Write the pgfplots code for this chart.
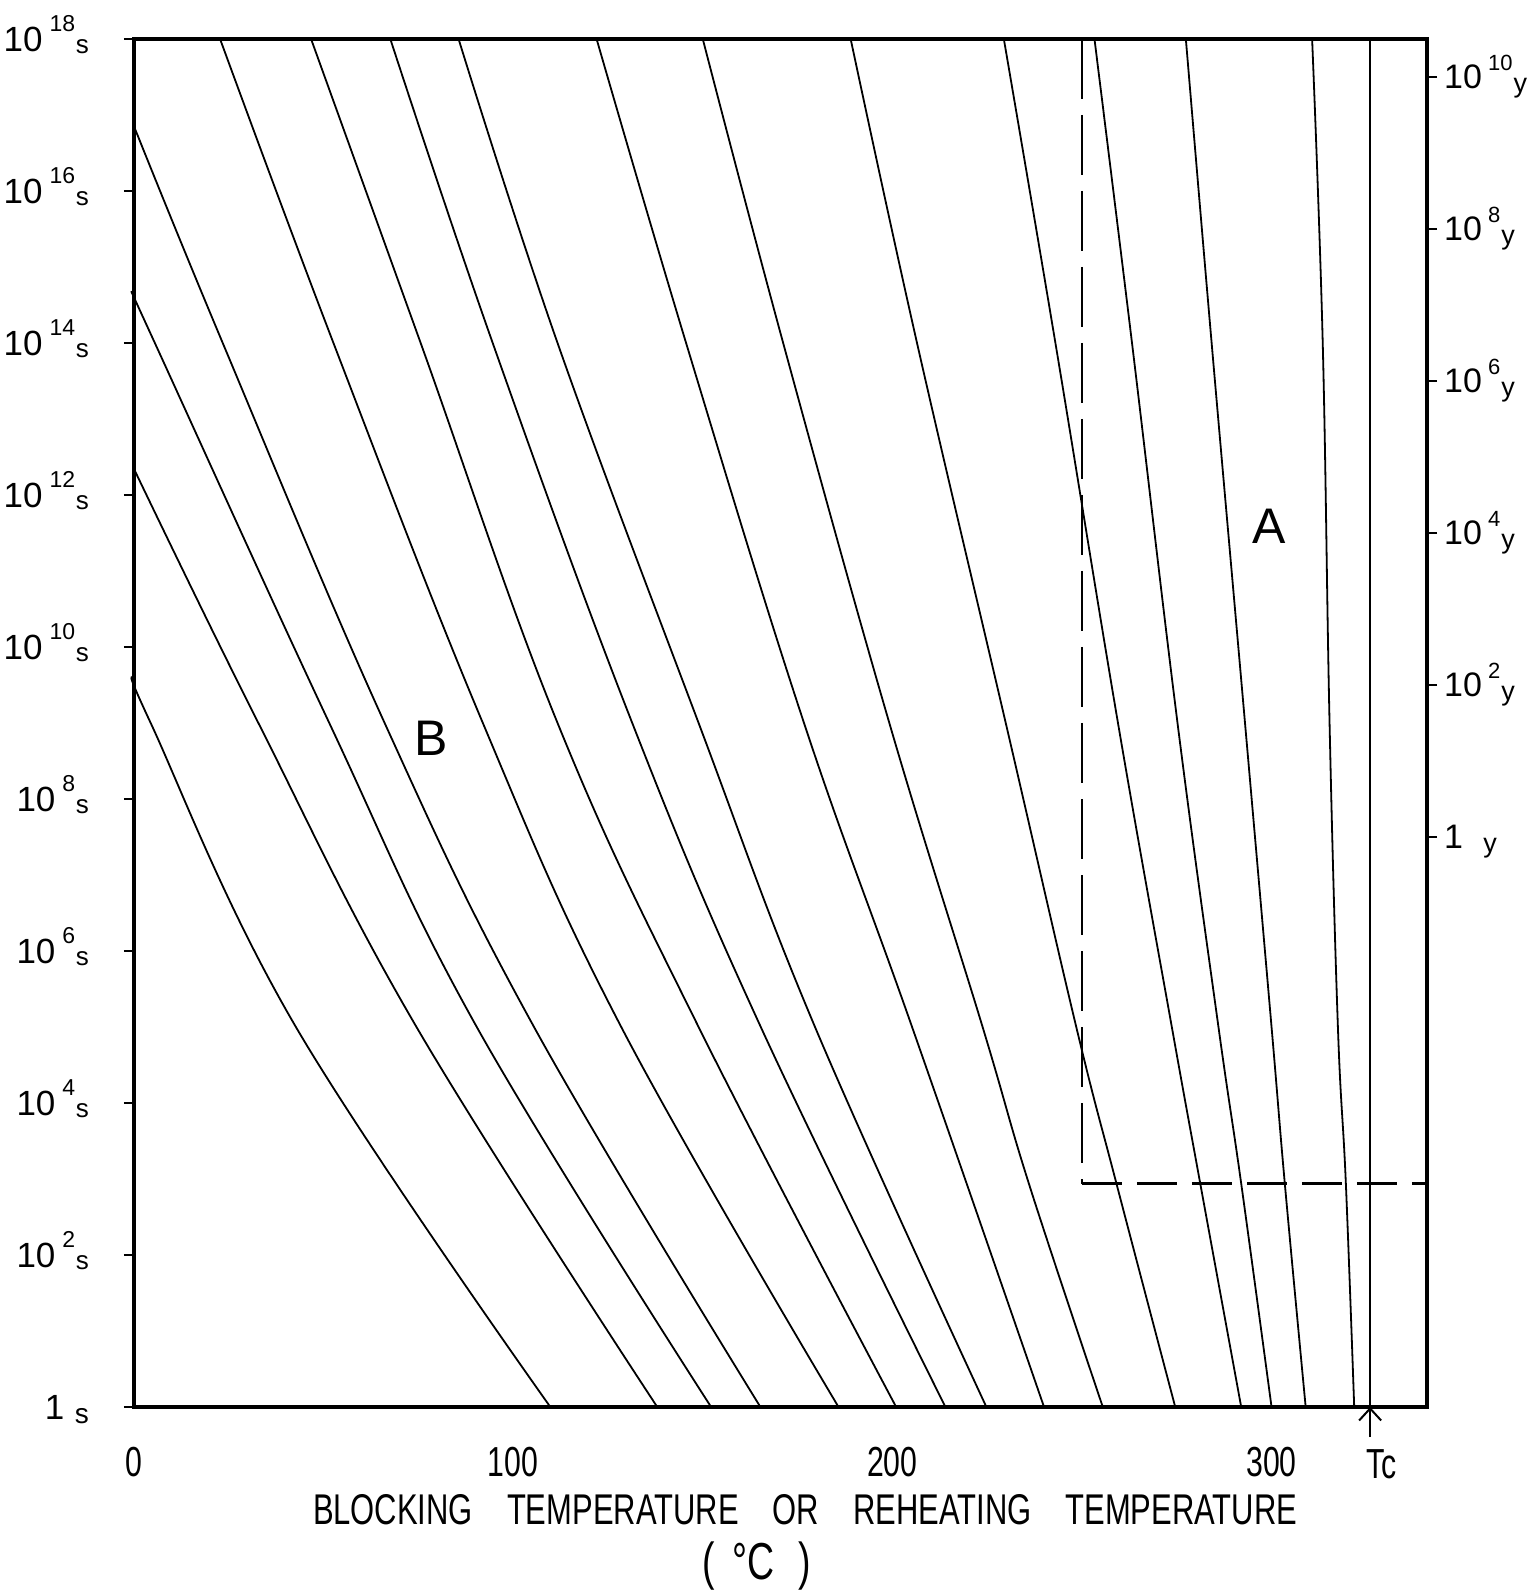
\documentclass[border=0pt]{standalone}
\usepackage{pgfplots}
\pgfplotsset{compat=1.18}
\usepackage{fontspec}
\usetikzlibrary{arrows.meta}
\setmainfont{Liberation Sans}
\newfontfamily\condfont{Liberation Sans}[FakeStretch=0.72]

\newcommand{\sx}[1]{10\hspace{0.2em}\smash{\raisebox{0.55em}{\fontsize{11.5}{12}\selectfont #1}\hspace{0.02em}\raisebox{-0.08em}{\fontsize{13}{13}\selectfont s}}}
\newcommand{\yx}[1]{10\hspace{0.18em}\smash{\raisebox{0.55em}{\fontsize{11}{12}\selectfont #1}\hspace{0.03em}\raisebox{-0.1em}{\fontsize{13.5}{14}\selectfont y}}}

\begin{document}
\begin{tikzpicture}
\begin{axis}[
  name=ax, scale only axis, width=646.5pt, height=684pt,
  xmin=0, xmax=341, ymode=log, ymin=1, ymax=1e18,
  clip=false,
  axis line style={line width=1.8pt},
  xtick={0,100,200,300}, xticklabels={0,100,200,300},
  xtick style={draw=none},
  xticklabel style={font=\condfont\fontsize{21}{21}\selectfont, anchor=base, yshift=-30pt},
  ytick={1,1e2,1e4,1e6,1e8,1e10,1e12,1e14,1e16,1e18},
  yticklabels={{1\hspace{0.3em}\smash{\raisebox{-0.12em}{\fontsize{14}{14}\selectfont s}}},\sx{2},\sx{4},\sx{6},\sx{8},\sx{10},\sx{12},\sx{14},\sx{16},\sx{18}},
  ytick pos=left, xtick pos=bottom,
  yminorticks=false, xminorticks=false,
  tick align=outside, major tick length=5pt,
  ytick style={line width=1.2pt, black},
  yticklabel style={font=\fontsize{17.5}{20}\selectfont, anchor=east, xshift=-14pt},
]
% curves starting on the left edge
\addplot[black, line width=0.9pt, smooth, tension=0.65] coordinates {(0,3.6e9) (4.4,1e9) (42.7,1e5) (109.8,1)};
\addplot[black, line width=0.9pt, smooth, tension=0.65] coordinates {(0,2.2e12) (32.8,1e9) (74.5,1e5) (138,1)};
\addplot[black, line width=0.9pt, smooth, tension=0.65] coordinates {(0,4e14) (5.5,1e14) (51.5,1e9) (90.4,1e5) (152.2,1)};
\addplot[black, line width=0.9pt, smooth, tension=0.65] coordinates {(0,7.1e16) (23.4,1e14) (66.1,1e9) (105.5,1e5) (165.2,1)};
% curves starting on the top edge
\addplot[black, line width=0.9pt, smooth, tension=0.65] coordinates {(22.7,1e18) (52.6,1e14) (92,1e9) (128.5,1e5) (185.8,1)};
\addplot[black, line width=0.9pt, smooth, tension=0.65] coordinates {(46.7,1e18) (75.6,1e14) (111.7,1e9) (148.9,1e5) (201,1)};
\addplot[black, line width=0.9pt, smooth, tension=0.65] coordinates {(67.6,1e18) (94.6,1e14) (131.4,1e9) (165.3,1e5) (214,1)};
\addplot[black, line width=0.9pt, smooth, tension=0.65] coordinates {(85.6,1e18) (111.7,1e14) (148.9,1e9) (179.6,1e5) (224.8,1)};
\addplot[black, line width=0.9pt, smooth, tension=0.65] coordinates {(122,1e18) (145.6,1e14) (176.7,1e9) (205.2,1e5) (240,1)};
\addplot[black, line width=0.9pt, smooth, tension=0.65] coordinates {(150,1e18) (171.2,1e14) (199.2,1e9) (223.8,1e5) (236,870) (255.5,1)};
\addplot[black, line width=0.9pt, smooth, tension=0.65] coordinates {(189,1e18) (206.5,1e14) (229.9,1e9) (248.5,1e5) (259.1,870) (274.6,1)};
\addplot[black, line width=0.9pt, smooth, tension=0.65] coordinates {(229.4,1e18) (243,1e14) (259.5,1e9) (273.7,1e5) (281.2,870) (292,1)};
\addplot[black, line width=0.9pt, smooth, tension=0.65] coordinates {(253.3,1e18) (263.2,1e14) (275.2,1e9) (286,1e5) (292,870) (300,1)};
\addplot[black, line width=0.9pt, smooth, tension=0.65] coordinates {(277.4,1e18) (284.2,1e14) (293,1e9) (300,1e5) (303.5,870) (309,1)};
\addplot[black, line width=0.9pt, smooth, tension=0.65] coordinates {(310.7,1e18) (313.5,1e14) (315.3,1e9) (317.5,1e5) (319.6,870) (321.8,1)};
% Curie temperature
\addplot[black, line width=0.9pt] coordinates {(326,1) (326,1e18)};
% dashed region A
\addplot[black, line width=1.1pt, dash pattern=on 30pt off 8pt] coordinates {(250,1e18) (250,870)};
\addplot[black, line width=1.1pt, dash pattern=on 20pt off 7.5pt] coordinates {(250,870) (341,870)};

\node[font=\fontsize{25}{26}\selectfont] at (axis cs:299.4,3.9e11) {A};
\node[font=\fontsize{25}{26}\selectfont] at (axis cs:78.3,6.2e8) {B};

\draw[-{Straight Barb[length=6pt,width=11pt]}, line width=1pt] ([yshift=-15pt]axis cs:326,1) -- (axis cs:326,1);
\node[font=\condfont\fontsize{21}{21}\selectfont, anchor=base, yshift=-35.5pt] at (axis cs:329,1) {Tc};

\node[font=\condfont\fontsize{21.5}{22}\selectfont, anchor=base, yshift=-58.5pt] at (rel axis cs:0.519,0)
  {BLOCKING\hspace{17pt}TEMPERATURE\hspace{17pt}OR\hspace{17pt}REHEATING\hspace{17pt}TEMPERATURE};
\node[font=\condfont\fontsize{26}{28}\selectfont, anchor=base, yshift=-86pt] at (rel axis cs:0.4818,0)
  {(\hspace{9pt}°C\hspace{12pt})};
\end{axis}

\begin{axis}[
  scale only axis, width=646.5pt, height=684pt,
  xmin=0, xmax=341, ymode=log, ymin=1, ymax=1e18,
  axis x line=none, axis y line*=right,
  y axis line style={line width=1.5pt},
  ytick={3.156e7,3.156e9,3.156e11,3.156e13,3.156e15,3.156e17},
  yticklabels={{1\hspace{0.6em}\smash{\raisebox{-0.1em}{\fontsize{13.5}{14}\selectfont y}}},\yx{2},\yx{4},\yx{6},\yx{8},\yx{10}},
  yminorticks=false,
  tick align=outside, major tick length=5pt,
  ytick style={line width=1.2pt, black},
  yticklabel style={font=\fontsize{17}{20}\selectfont, anchor=west, xshift=0pt},
]
\end{axis}

\pgfresetboundingbox
\path ([shift={(-67pt,-93pt)}]ax.south west) rectangle ([shift={(54pt,19.5pt)}]ax.north east);
\end{tikzpicture}
\end{document}
